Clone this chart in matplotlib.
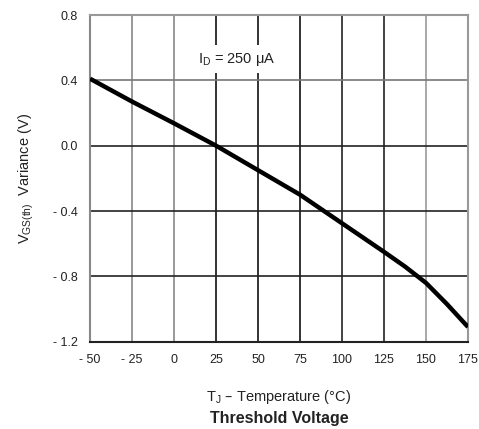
import matplotlib
matplotlib.use("Agg")
import matplotlib.pyplot as plt
import numpy as np

plt.rcParams['font.family'] = ['Liberation Sans', 'DejaVu Sans']

temps = [-50, -25, 0, 25, 50, 75, 100, 125, 137.5, 150, 162.5, 175]
variance = [0.41, 0.27, 0.137, 0.0, -0.15, -0.30, -0.475, -0.65, -0.74, -0.84, -0.97, -1.11]

xticks = [-50, -25, 0, 25, 50, 75, 100, 125, 150, 175]
xtick_labels = ['- 50', '- 25', '0', '25', '50', '75', '100', '125', '150', '175']
yticks = [-1.2, -0.8, -0.4, 0.0, 0.4, 0.8]
ytick_labels = ['- 1.2', '- 0.8', '- 0.4', '0.0', '0.4', '0.8']

fig = plt.figure(figsize=(4.79, 4.29), dpi=100)
ax = fig.add_axes([0.188, 0.2035, 0.789, 0.7615])
ax.set_xlim(-50, 175)
ax.set_ylim(-1.2, 0.8)

vcolors = {-25: '#888888', 0: '#888888', 25: '#111111', 50: '#111111', 75: '#111111',
           100: '#222222', 125: '#222222', 150: '#999999'}
for x in xticks[1:-1]:
    ax.axvline(x, color=vcolors.get(x, '#333333'), lw=1.2, zorder=1)
hcolors = {-0.8: '#222222', -0.4: '#222222', 0.0: '#222222', 0.4: '#777777'}
for y in yticks[1:-1]:
    ax.axhline(y, color=hcolors.get(y, '#333333'), lw=1.2, zorder=1)

for side, c in [('left', '#888888'), ('right', '#999999'), ('top', '#999999'), ('bottom', '#222222')]:
    ax.spines[side].set_color(c)
    ax.spines[side].set_linewidth(1.5)

ax.plot(temps, variance, color='black', lw=3.2, zorder=3, solid_capstyle='butt',
        solid_joinstyle='round')

ax.set_xticks(xticks)
ax.set_xticklabels(xtick_labels)
ax.set_yticks(yticks)
ax.set_yticklabels(ytick_labels)
ax.tick_params(length=0, labelsize=9, colors='#222222', pad=9)

ax.text(37.5, 0.53, r'I$_\mathregular{D}$ = 250 $\mathregular{\mu}$A', ha='center', va='center',
        fontsize=10.5, color='#222222', zorder=4,
        bbox=dict(facecolor='white', edgecolor='none', pad=4))

ax.set_xlabel('T$_\\mathregular{J}$ – Temperature (°C)', fontsize=10.5, color='#222222', labelpad=16)
ax.set_ylabel('V$_\\mathregular{GS(th)}$  Variance (V)', fontsize=10.5, color='#222222', labelpad=12)
fig.text(0.5 * (0.188 + 0.977), 1 - 418 / 429, 'Threshold Voltage', ha='center', va='center',
         fontsize=11.5, fontweight='bold', color='#222222')

fig.savefig('out.png', dpi=100)
